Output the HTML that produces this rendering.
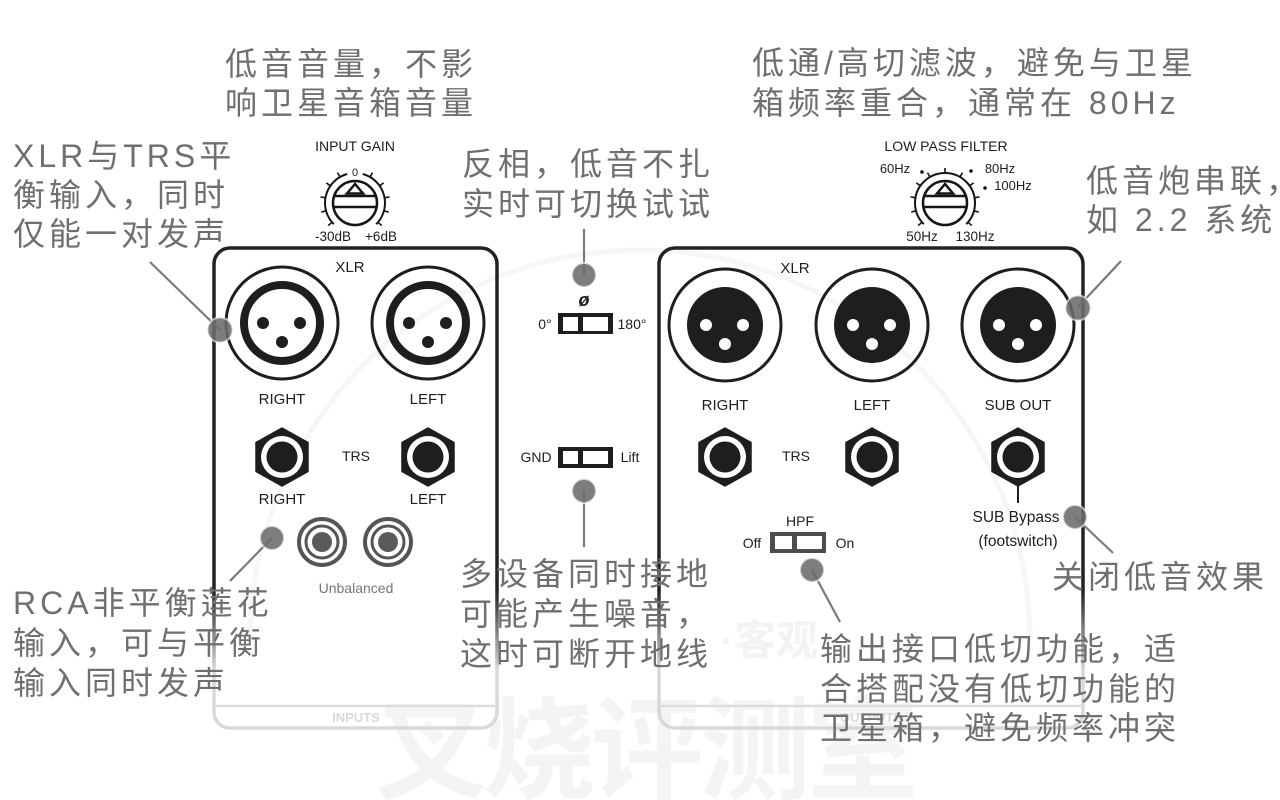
<!DOCTYPE html>
<html><head><meta charset="utf-8"><style>
html,body{margin:0;padding:0;background:#fff;}
svg{display:block;}
.cn{font-family:"Liberation Sans","Noto Sans CJK SC",sans-serif;font-size:32px;fill:#6f6f6f;letter-spacing:4px;}
.lb{font-family:"Liberation Sans","DejaVu Sans",sans-serif;fill:#1e1e1e;font-size:14px;text-anchor:middle;}
</style></head><body>
<svg width="1280" height="800" viewBox="0 0 1280 800" xmlns="http://www.w3.org/2000/svg">
<defs>
<linearGradient id="fade" gradientUnits="userSpaceOnUse" x1="0" y1="590" x2="0" y2="670">
<stop offset="0" stop-color="#222"/><stop offset="1" stop-color="#d8d8d8"/>
</linearGradient>
<g id="xlrF">
<circle r="38" fill="none" stroke="#1e1e1e" stroke-width="8"/>
<circle cx="-19" cy="0" r="6" fill="#1e1e1e"/><circle cx="18" cy="0" r="6" fill="#1e1e1e"/><circle cx="0" cy="19" r="6" fill="#1e1e1e"/>
</g>
<g id="xlrM">
<circle r="38" fill="#1e1e1e"/>
<circle cx="-19" cy="0" r="6" fill="#fff"/><circle cx="18" cy="0" r="6" fill="#fff"/><circle cx="0" cy="19" r="6" fill="#fff"/>
</g>
<g id="trs">
<polygon points="0,-29 26,-14.5 26,14.5 0,29 -26,14.5 -26,-14.5" fill="#1e1e1e" stroke="#1e1e1e" stroke-width="1.5" stroke-linejoin="round"/>
<circle r="21" fill="#fff"/><circle r="15.5" fill="#1e1e1e"/>
</g>
<g id="rca">
<circle r="23" fill="none" stroke="#555" stroke-width="4"/>
<circle r="16" fill="none" stroke="#555" stroke-width="3"/>
<circle r="10" fill="#5a5a5a"/>
</g>
<g id="knobBody">
<circle r="22" fill="#fff" stroke="#151515" stroke-width="2.5"/>
<line x1="-20.8" y1="-7" x2="20.8" y2="-7" stroke="#151515" stroke-width="2.5"/>
<line x1="-21.6" y1="4" x2="21.6" y2="4" stroke="#151515" stroke-width="2.5"/>
<polygon points="0,-19 -8,-9.5 8,-9.5" fill="none" stroke="#151515" stroke-width="2.5" stroke-linejoin="miter"/>
<g stroke="#151515" stroke-width="1.6">
<line x1="15" y1="-26" x2="17.5" y2="-30.3"/><line x1="-15" y1="-26" x2="-17.5" y2="-30.3"/>
<line x1="24.6" y1="-17.2" x2="28.7" y2="-20.1"/><line x1="-24.6" y1="-17.2" x2="-28.7" y2="-20.1"/>
<line x1="29.5" y1="-5.2" x2="34.5" y2="-6.1"/><line x1="-29.5" y1="-5.2" x2="-34.5" y2="-6.1"/>
<line x1="29" y1="7.8" x2="33.8" y2="9.1"/><line x1="-29" y1="7.8" x2="-33.8" y2="9.1"/>
<line x1="23" y1="19.3" x2="26.8" y2="22.5"/><line x1="-23" y1="19.3" x2="-26.8" y2="22.5"/>
</g>
</g>
</defs>

<!-- watermark -->
<g font-family="Liberation Sans,Noto Sans CJK SC,sans-serif" font-weight="bold" fill="#f4f4f4">
<text x="375" y="790" font-size="112" letter-spacing="-4">叉烧评测室</text>
<text x="720" y="655" font-size="42" fill="#f3f3f3">·客观</text>
</g>
<path d="M250 640 A 330 330 0 0 1 1030 640" fill="none" stroke="#f6f6f6" stroke-width="5"/>

<!-- left panel -->
<rect x="214" y="248" width="283" height="480" rx="16" fill="none" stroke="url(#fade)" stroke-width="3.5"/>
<line x1="216" y1="706" x2="495" y2="706" stroke="#dcdcdc" stroke-width="2.5"/>
<text x="356" y="722" class="lb" style="fill:#dadada;font-size:13px;font-weight:bold">INPUTS</text>

<!-- right panel -->
<rect x="659" y="248" width="424" height="480" rx="16" fill="none" stroke="url(#fade)" stroke-width="3.5"/>
<line x1="661" y1="706" x2="1081" y2="706" stroke="#dcdcdc" stroke-width="2.5"/>
<text x="871" y="722" class="lb" style="fill:#dadada;font-size:13px;font-weight:bold">OUTPUTS</text>

<!-- input gain knob -->
<text x="355" y="151" class="lb">INPUT GAIN</text>
<g transform="translate(355,203)">
<use href="#knobBody"/>
<path d="M -21.2 21.2 A 30 30 0 0 1 -7.8 -29 M 7.8 -29 A 30 30 0 0 1 21.2 21.2" fill="none" stroke="#151515" stroke-width="2"/>
</g>
<text x="355" y="176" class="lb" style="font-size:11px">0</text>
<text x="333" y="241" class="lb" style="font-size:13.5px">-30dB</text>
<text x="381" y="241" class="lb" style="font-size:13.5px">+6dB</text>

<!-- left panel connectors -->
<text x="350" y="272" class="lb" style="font-size:15px">XLR</text>
<circle cx="282" cy="323" r="56" fill="none" stroke="#1e1e1e" stroke-width="3"/>
<use href="#xlrF" x="282" y="323"/>
<circle cx="428" cy="323" r="56" fill="none" stroke="#1e1e1e" stroke-width="3"/>
<use href="#xlrF" x="428" y="323"/>
<text x="282" y="404" class="lb" style="font-size:15px">RIGHT</text>
<text x="428" y="404" class="lb" style="font-size:15px">LEFT</text>
<use href="#trs" x="282" y="457"/>
<use href="#trs" x="428" y="457"/>
<text x="356" y="461" class="lb">TRS</text>
<text x="282" y="504" class="lb" style="font-size:15px">RIGHT</text>
<text x="428" y="504" class="lb" style="font-size:15px">LEFT</text>
<use href="#rca" x="322" y="542"/>
<use href="#rca" x="388" y="542"/>
<text x="356" y="593" class="lb" style="fill:#777">Unbalanced</text>

<!-- middle switches -->
<text x="584" y="306" class="lb" style="font-size:18px;font-weight:bold;font-style:italic">ø</text>
<rect x="558" y="313" width="55" height="21" fill="#1e1e1e"/>
<rect x="563" y="317" width="15" height="14" fill="#fff"/>
<rect x="583" y="317" width="25" height="14" fill="#fff"/>
<text x="545" y="329" class="lb">0°</text>
<text x="632" y="329" class="lb">180°</text>
<rect x="558" y="447" width="55" height="21" fill="#1e1e1e"/>
<rect x="563" y="451" width="15" height="13" fill="#fff"/>
<rect x="583" y="451" width="25" height="13" fill="#fff"/>
<text x="536" y="462" class="lb">GND</text>
<text x="630" y="462" class="lb">Lift</text>

<!-- LPF knob -->
<text x="946" y="151" class="lb">LOW PASS FILTER</text>
<g transform="translate(945,203)">
<use href="#knobBody"/>
<line x1="0" y1="-30" x2="0" y2="-35" stroke="#151515" stroke-width="1.6"/>
<path d="M -21.2 21.2 A 30 30 0 1 1 21.2 21.2" fill="none" stroke="#151515" stroke-width="2"/>
</g>
<text x="895" y="173" class="lb" style="font-size:13px">60Hz</text>
<circle cx="922" cy="172" r="1.8" fill="#151515"/>
<circle cx="971" cy="171" r="1.8" fill="#151515"/>
<text x="1000" y="173" class="lb" style="font-size:13px">80Hz</text>
<circle cx="985" cy="188" r="1.8" fill="#151515"/>
<text x="1013" y="190" class="lb" style="font-size:13px">100Hz</text>
<text x="922" y="241" class="lb" style="font-size:13.5px">50Hz</text>
<text x="975" y="241" class="lb" style="font-size:13.5px">130Hz</text>

<!-- right panel connectors -->
<text x="795" y="273" class="lb" style="font-size:15px">XLR</text>
<circle cx="725" cy="325" r="56" fill="none" stroke="#1e1e1e" stroke-width="3"/>
<use href="#xlrM" x="725" y="325"/>
<circle cx="872" cy="325" r="56" fill="none" stroke="#1e1e1e" stroke-width="3"/>
<use href="#xlrM" x="872" y="325"/>
<circle cx="1018" cy="325" r="56" fill="none" stroke="#1e1e1e" stroke-width="3"/>
<use href="#xlrM" x="1018" y="325"/>
<text x="725" y="410" class="lb" style="font-size:15px">RIGHT</text>
<text x="872" y="410" class="lb" style="font-size:15px">LEFT</text>
<text x="1018" y="410" class="lb" style="font-size:15px">SUB OUT</text>
<use href="#trs" x="725" y="457"/>
<use href="#trs" x="872" y="457"/>
<use href="#trs" x="1018" y="457"/>
<text x="796" y="461" class="lb">TRS</text>
<line x1="1018" y1="485" x2="1018" y2="503" stroke="#1e1e1e" stroke-width="2"/>
<text x="1016" y="522" class="lb" style="font-size:15.5px">SUB Bypass</text>
<text x="1018" y="546" class="lb" style="font-size:15.5px">(footswitch)</text>
<text x="800" y="526" class="lb">HPF</text>
<rect x="770" y="532" width="56" height="21" fill="#4d4d4d"/>
<rect x="775" y="536" width="17" height="13" fill="#fff"/>
<rect x="797" y="536" width="25" height="13" fill="#fff"/>
<text x="752" y="548" class="lb">Off</text>
<text x="845" y="548" class="lb">On</text>

<!-- connectors / callout lines -->
<g stroke="#7a7a7a" stroke-width="2.2" fill="none">
<line x1="150" y1="262" x2="220" y2="330"/>
<line x1="272" y1="538" x2="230" y2="581"/>
<line x1="584" y1="229" x2="584" y2="275"/>
<line x1="584" y1="490" x2="584" y2="547"/>
<line x1="1078" y1="307" x2="1121" y2="261"/>
<line x1="1075" y1="517" x2="1113" y2="553"/>
<line x1="812" y1="570" x2="840" y2="622"/>
</g>
<g fill="#6b6b6b" fill-opacity="0.88" stroke="#fff" stroke-opacity="0.6" stroke-width="2">
<circle cx="220" cy="330" r="12.5"/>
<circle cx="272" cy="538" r="12"/>
<circle cx="584" cy="275" r="12"/>
<circle cx="584" cy="491" r="12"/>
<circle cx="1078" cy="308" r="12.5"/>
<circle cx="1075" cy="517" r="12"/>
<circle cx="812" cy="570" r="12"/>
</g>

<!-- annotations -->
<text class="cn" x="225" y="75">低音音量，不影</text>
<text class="cn" x="225" y="114">响卫星音箱音量</text>

<text class="cn" x="13" y="167">XLR与TRS平</text>
<text class="cn" x="13" y="206">衡输入，同时</text>
<text class="cn" x="13" y="245">仅能一对发声</text>

<text class="cn" x="462" y="175">反相，低音不扎</text>
<text class="cn" x="462" y="215">实时可切换试试</text>

<text class="cn" x="752" y="74">低通/高切滤波，避免与卫星</text>
<text class="cn" x="752" y="114">箱频率重合，通常在 80Hz</text>

<text class="cn" x="1086" y="192">低音炮串联，</text>
<text class="cn" x="1086" y="231">如 2.2 系统</text>

<text class="cn" x="13" y="614">RCA非平衡莲花</text>
<text class="cn" x="13" y="654">输入，可与平衡</text>
<text class="cn" x="13" y="694">输入同时发声</text>

<text class="cn" x="460" y="585">多设备同时接地</text>
<text class="cn" x="460" y="625">可能产生噪音，</text>
<text class="cn" x="460" y="665">这时可断开地线</text>

<text class="cn" x="1052" y="588">关闭低音效果</text>

<text class="cn" x="820" y="660">输出接口低切功能，适</text>
<text class="cn" x="820" y="700">合搭配没有低切功能的</text>
<text class="cn" x="820" y="739">卫星箱，避免频率冲突</text>
</svg>
</body></html>
